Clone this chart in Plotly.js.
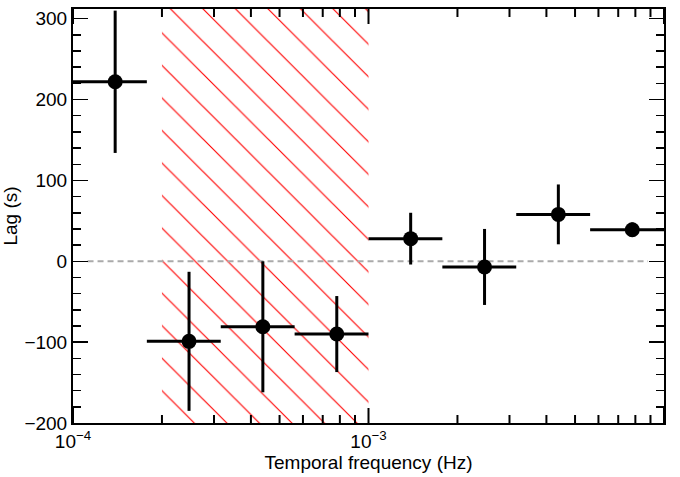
<!DOCTYPE html>
<html>
<head>
<meta charset="utf-8">
<script src="https://cdn.plot.ly/plotly-3.0.1.min.js"></script>
<style>html,body{margin:0;padding:0;background:#fff;}#chart{width:680px;height:477px;}</style>
</head>
<body>
<div id="chart"></div>
<script>
// Frequency bin edges (Hz), bin centres, lags (s) and 1-sigma errors
const binEdges = [1e-4, 1.778e-4, 3.162e-4, 5.623e-4, 1e-3, 1.778e-3, 3.162e-3, 5.623e-3, 1e-2];
const freqCenters = [1.389e-4, 2.47e-4, 4.39e-4, 7.81e-4, 1.389e-3, 2.47e-3, 4.39e-3, 7.81e-3];
const lagValues = [222, -99, -81, -90, 28, -7, 58, 39];
const lagErrors = [88, 86, 81, 47, 32, 47, 37, 9];
const hatchBand = [2e-4, 1e-3];
const zeroLineX = [1.12e-4, 8.83e-3];
const xTickVals = [1e-4, 1e-3, 1e-2];
const xTickText = ['10<sup>\u22124</sup>', '10<sup>\u22123</sup>', '0.01'];
const xMinorTickVals = [2e-4, 3e-4, 4e-4, 5e-4, 6e-4, 7e-4, 8e-4, 9e-4,
                        2e-3, 3e-3, 4e-3, 5e-3, 6e-3, 7e-3, 8e-3, 9e-3];
const yRange = [-200, 312];

const W = 680, H = 477, M = {l: 73, r: 16, t: 9, b: 54};
const errPlus = freqCenters.map((c, i) => binEdges[i + 1] - c);
const errMinus = freqCenters.map((c, i) => c - binEdges[i]);

// inward x tick marks at bottom and top, lengths given in pixels
const unitsPerPx = (yRange[1] - yRange[0]) / (H - M.t - M.b);
function tickTrace(vals, lenPx) {
  const d = lenPx * unitsPerPx, x = [], y = [];
  vals.forEach(v => {
    x.push(v, v, null, v, v, null);
    y.push(yRange[0], yRange[0] + d, null, yRange[1], yRange[1] - d, null);
  });
  return {x: x, y: y, mode: 'lines', line: {color: '#000', width: 2},
          hoverinfo: 'skip', showlegend: false, connectgaps: false, cliponaxis: false};
}

const font = {family: 'Liberation Sans, Arial, sans-serif', color: '#000', size: 19};

const traces = [
  {
    x: [hatchBand[0], hatchBand[1], hatchBand[1], hatchBand[0], hatchBand[0]],
    y: [yRange[0], yRange[0], yRange[1], yRange[1], yRange[0]],
    mode: 'lines', line: {width: 0}, fill: 'toself',
    fillcolor: 'rgba(0,0,0,0)',
    fillpattern: {shape: '\\', fgcolor: '#ff0000', bgcolor: 'rgba(0,0,0,0)', size: 23, solidity: 0.05},
    hoverinfo: 'skip', showlegend: false
  },
  tickTrace(xMinorTickVals, 8),
  tickTrace(xTickVals, 15),
  {
    x: zeroLineX, y: [0, 0], mode: 'lines',
    line: {color: '#aaaaaa', width: 2, dash: '6px,4px'},
    hoverinfo: 'skip', showlegend: false
  },
  {
    x: freqCenters, y: lagValues, mode: 'markers', type: 'scatter',
    marker: {color: '#000', size: 15},
    error_y: {type: 'data', array: lagErrors, visible: true, color: '#000', thickness: 3, width: 0},
    error_x: {type: 'data', array: errPlus, arrayminus: errMinus, visible: true, color: '#000', thickness: 3, width: 0},
    showlegend: false
  }
];

const layout = {
  width: W, height: H,
  margin: M,
  paper_bgcolor: '#fff', plot_bgcolor: '#fff',
  font: font,
  showlegend: false,
  xaxis: {
    type: 'log', range: [-4, -2],
    tickmode: 'array', tickvals: xTickVals, ticktext: xTickText,
    ticks: 'inside', ticklen: 15, tickwidth: 1.5, tickcolor: '#000',
    showline: true, linecolor: '#000', linewidth: 2, mirror: 'allticks',
    showgrid: false, zeroline: false,
    tickfont: {size: 19},
    title: {text: 'Temporal frequency (Hz)', font: {size: 19}, standoff: 4}
  },
  yaxis: {
    range: yRange, dtick: 100, tick0: 0,
    ticks: 'inside', ticklen: 15, tickwidth: 1.5, tickcolor: '#000',
    minor: {ticks: 'inside', ticklen: 8, tickwidth: 1.5, tickcolor: '#000', dtick: 20},
    showline: true, linecolor: '#000', linewidth: 2, mirror: 'allticks',
    showgrid: false, zeroline: false,
    tickfont: {size: 19},
    title: {text: 'Lag (s)', font: {size: 19}, standoff: 2}
  }
};

Plotly.newPlot('chart', traces, layout, {displayModeBar: false, staticPlot: true});
</script>
</body>
</html>
